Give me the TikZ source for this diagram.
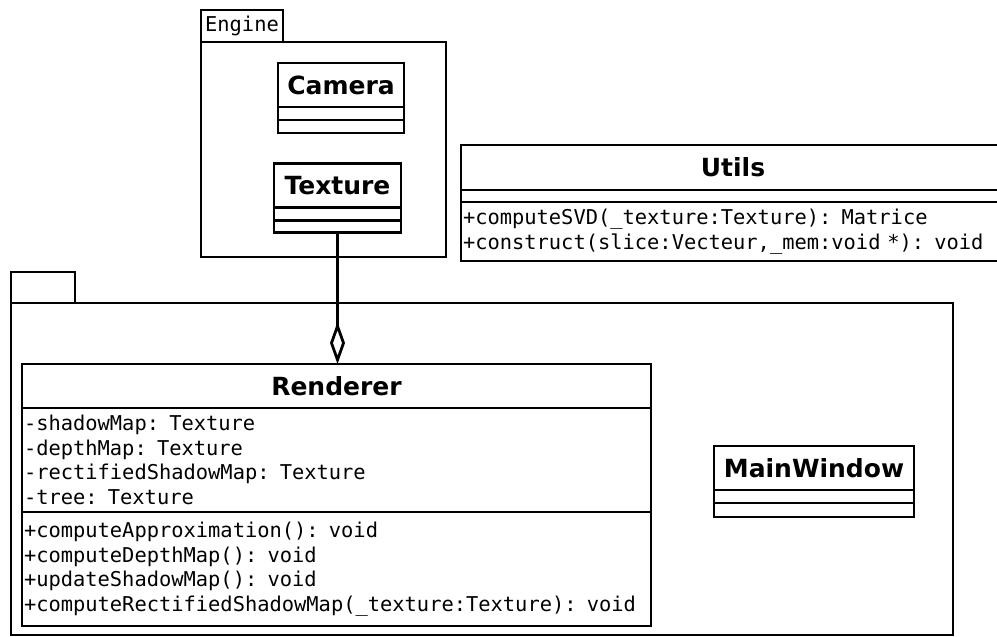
\documentclass[tikz,border=0pt]{standalone}
\usepackage{fontspec}
\newfontfamily\classfont{DejaVu Sans}
\newfontfamily\memberfont{DejaVu Sans Mono}
\usetikzlibrary{arrows.meta, positioning}
\tikzset{
  pkgbody/.style={
    rectangle, draw, line width=2.8pt, outer sep=0pt,
    inner sep=0pt, anchor=north west
  },
  pkgtab/.style={
    rectangle, draw, line width=2.8pt, outer sep=0pt,
    inner sep=0pt, anchor=south west,
    font=\memberfont\fontsize{20.4}{24}\selectfont
  },
  clsname/.style={
    rectangle, draw, line width=2.8pt, outer sep=0pt,
    inner sep=0pt, minimum height=44pt,
    font=\classfont\bfseries\fontsize{25}{30}\selectfont
  },
  clsbody/.style={
    rectangle, draw, line width=2.8pt, outer sep=0pt,
    inner xsep=2pt, inner ysep=0pt, align=left,
    font=\memberfont\fontsize{20.4}{24.6}\selectfont
  },
  aggr/.style={-{Diamond[open, length=42pt, width=15pt]}, line width=2.8pt}
}
\begin{document}
\begin{tikzpicture}[x=1pt, y=-1pt]
\useasboundingbox (0,0) rectangle (997,637);
\clip (0,0) rectangle (997,637);

% ── Engine package ──────────────────────────────────────────────────────────
\node[pkgbody, minimum width=245pt, minimum height=215pt] (engine) at (201,42) {};
\node[pkgtab, minimum width=82pt, minimum height=32pt] (enginetab) at (engine.north west) {Engine};

\node[clsname, minimum width=126pt] (camname) at (341,85) {Camera};
\node[clsbody, minimum width=126pt, minimum height=13pt, below=0pt of camname] (camattr) {};
\node[clsbody, minimum width=126pt, minimum height=13pt, below=0pt of camattr] (camops) {};

\node[clsname, minimum width=127pt] (texname) at (337.5,185.5) {Texture};
\node[clsbody, minimum width=127pt, minimum height=13pt, below=0pt of texname] (texattr) {};
\node[clsbody, minimum width=127pt, minimum height=12pt, below=0pt of texattr] (texops) {};

% ── Utils ───────────────────────────────────────────────────────────────────
\node[clsname, minimum width=544pt, minimum height=45pt] (utilname) at (733,167.5) {Utils};
\node[clsbody, minimum width=544pt, minimum height=12pt, below=0pt of utilname] (utilattr) {};
\node[clsbody, text width=540pt, minimum height=59pt, below=0pt of utilattr] (utilops)
  {+computeSVD(\_texture:Texture): Matrice\\
   +construct(slice:Vecteur,\_mem:void *): void};

% ── Outer package ───────────────────────────────────────────────────────────
\node[pkgbody, minimum width=942pt, minimum height=332pt] (app) at (11,303) {};
\node[pkgtab, minimum width=64pt, minimum height=31pt] (apptab) at (app.north west) {};

% Renderer
\node[clsname, minimum width=629pt] (rendname) at (336.5,386) {Renderer};
\node[clsbody, text width=625pt, minimum height=104pt, below=0pt of rendname] (rendattr)
  {-shadowMap: Texture\\
   -depthMap: Texture\\
   -rectifiedShadowMap: Texture\\
   -tree: Texture};
\node[clsbody, text width=625pt, minimum height=114pt, below=0pt of rendattr] (rendops)
  {+computeApproximation(): void\\
   +computeDepthMap(): void\\
   +updateShadowMap(): void\\
   +computeRectifiedShadowMap(\_texture:Texture): void};

% MainWindow
\node[clsname, minimum width=200pt] (winname) at (814,468) {MainWindow};
\node[clsbody, minimum width=200pt, minimum height=13pt, below=0pt of winname] (winattr) {};
\node[clsbody, minimum width=200pt, minimum height=14pt, below=0pt of winattr] (winops) {};

% ── Aggregation ─────────────────────────────────────────────────────────────
\draw[aggr] (texops.south) -- (texops.south |- rendname.north);

\end{tikzpicture}
\end{document}
